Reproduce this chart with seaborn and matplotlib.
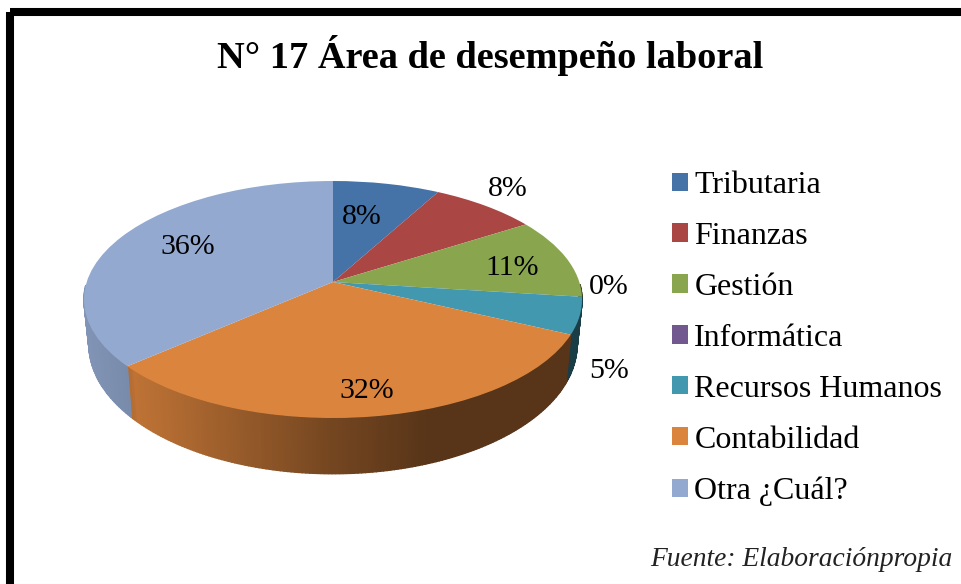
import numpy as np
import seaborn as sns
import matplotlib.pyplot as plt
from matplotlib.colors import to_rgb
from matplotlib.patches import Rectangle
from matplotlib.transforms import Transform

sns.set_theme(style='white')
plt.rcParams['font.family'] = ['Liberation Serif', 'DejaVu Serif']

# Data
areas = ['Tributaria', 'Finanzas', 'Gestión', 'Informática',
         'Recursos Humanos', 'Contabilidad', 'Otra ¿Cuál?']
shares = [8, 8, 11, 0, 5, 31.6, 36.4]
share_labels = ['8%', '8%', '11%', '0%', '5%', '32%', '36%']
colors = ['#4572A7', '#AA4643', '#89A54E', '#71588F', '#4198AF', '#DB843D', '#93A9CF']

# Layout, in pixels of the 962x584 picture
label_xy = [(362, 217), (508, 189), (512, 268), (609, 287), (609, 371), (367, 391), (188, 247)]
APEX_X, APEX_Y = 333, 282
RIM_A, RIM_B, TILT = 246.3, 115.9, 0.1477


def project(x, y):
    # perspective view of the flat unit circle, apex is not the ellipse centre
    w = 1 + TILT * y
    return APEX_X + RIM_A * x / w, APEX_Y - RIM_B * y / w


class PieView(Transform):
    input_dims = output_dims = 2

    def transform_non_affine(self, values):
        px, py = project(values[:, 0], values[:, 1])
        return np.column_stack([px, py])


def side_shade(x, color):
    f = np.interp(x, [84, 130, 135, 333, 430, 583], [.88, .82, .87, .53, .40, .40])
    return tuple(c * f for c in to_rgb(color))


fig = plt.figure(figsize=(9.62, 5.84), dpi=100)
ax = fig.add_axes([0, 0, 1, 1])

wedges, _ = ax.pie(shares, colors=colors, startangle=90, counterclock=False, radius=1)
ax.set_aspect('auto')
ax.set_xlim(0, 962)
ax.set_ylim(584, 0)
ax.axis('off')

view = PieView() + ax.transData
for wedge in wedges:
    wedge.set_transform(view)
    wedge.set_zorder(3)
    wedge.set_edgecolor('none')
    wedge.set_clip_on(False)

# The side of the pie, thin quads under each slice
for wedge, color in zip(wedges, colors):
    if wedge.theta2 - wedge.theta1 < 0.01:
        continue
    angles = np.radians(np.arange(wedge.theta1, wedge.theta2 + 0.75, 0.75).clip(max=wedge.theta2))
    for a0, a1 in zip(angles[:-1], angles[1:]):
        if np.sin((a0 + a1) / 2) > -0.02:
            continue
        x_top, y_top = project(np.cos([a0, a1]), np.sin([a0, a1]))
        x_low = APEX_X + 0.98 * (x_top - APEX_X)
        y_low = 325.5 + 1.09 * (y_top - APEX_Y)
        shade = side_shade(x_top.mean(), color)
        ax.fill([x_top[0], x_top[1], x_low[1], x_low[0]],
                [y_top[0], y_top[1], y_low[1], y_low[0]],
                color=shade, lw=1.0, zorder=2)

for (x, y), text in zip(label_xy, share_labels):
    ax.text(x, y, text, fontsize=21.5, color='black', ha='center', va='center', zorder=4)

ax.text(490, 56, 'N° 17 Área de desempeño laboral', fontsize=27.6, fontweight='bold',
        color='black', ha='center', va='center')

ax.legend(wedges, areas, loc='upper left', bbox_to_anchor=(672, 171),
          bbox_transform=ax.transData, frameon=False, fontsize=23, labelcolor='black',
          handlelength=0.5, handleheight=0.5, handletextpad=0.2,
          labelspacing=0.686, borderpad=0, borderaxespad=0)

ax.text(952, 559, 'Fuente: Elaboraciónpropia', fontsize=19.8, style='italic',
        color='#222222', ha='right', va='center')

# Black frame, runs off the right and bottom edges
ax.add_patch(Rectangle((10, 11.5), 1100, 1100, fill=False, edgecolor='black',
                       lw=5.8, joinstyle='round', zorder=5))
ax.axhline(583.5, color='#e8e8e8', lw=0.8, zorder=1)

fig.savefig('out.png', dpi=100)
